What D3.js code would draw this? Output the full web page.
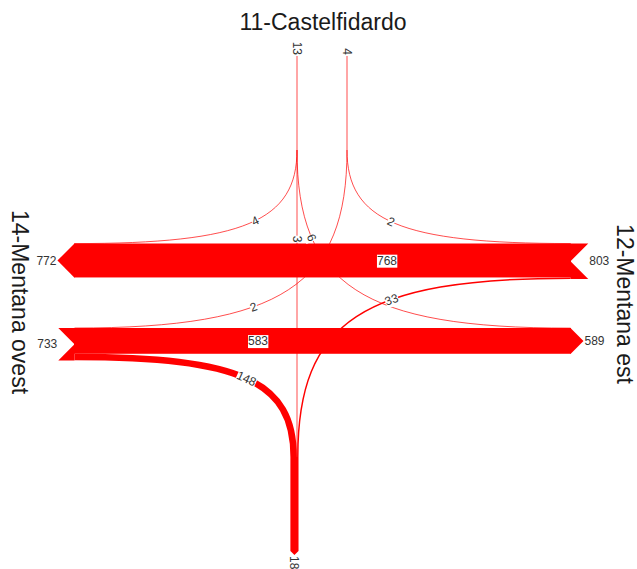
<!DOCTYPE html>
<html>
<head>
<meta charset="utf-8">
<script src="https://cdn.jsdelivr.net/npm/d3@7/dist/d3.min.js"></script>
<style>
  body { margin: 0; background: #fff; }
  text { font-family: "Liberation Sans", Arial, sans-serif; }
</style>
</head>
<body>
<div id="chart-area"></div>
<script>
// arm names (the south arm has no name in the survey)
const armNames = ["11-Castelfidardo", "12-Mentana est", "14-Mentana ovest"];

// turning movements, origin-destination (N = 11, E = 12, W = 14, S = south)
const movements = ["W-E", "E-W", "W-S", "E-S", "N-S", "N-W", "N-E", "E-N", "W-N"];
const vehicles = [583, 768, 148, 33, 3, 4, 6, 2, 2];

const flow = {};
movements.forEach((m, i) => (flow[m] = vehicles[i]));
const sumOf = (list) => d3.sum(list, (m) => flow[m]);

// totals per arm
const westIn = sumOf(["W-E", "W-S", "W-N"]);
const westOut = sumOf(["E-W", "N-W"]);
const eastIn = sumOf(["E-W", "E-S", "E-N"]);
const eastOut = sumOf(["W-E", "N-E"]);
const northIn = sumOf(["N-S", "N-W", "N-E"]);
const northOut = sumOf(["E-N", "W-N"]);
const southOut = sumOf(["W-S", "E-S", "N-S"]);

const width = 637,
  height = 569;

const svg = d3
  .select("#chart-area")
  .append("svg")
  .attr("width", width)
  .attr("height", height);

// band width scale
const w = d3.scaleLinear().domain([0, eastIn]).range([0, 35.5]);
const sw = (v) => Math.max(w(v), 0.7);

// layout
const xa = 74.5,
  xb = 570.5; // ends of the through bands
const yEW = 243.5; // top of westbound band
const yWE = 328; // top of eastbound band
const xNin = 297,
  xNout = 347,
  yNtop = 56,
  ySplit = 150;
const yJoin = 457,
  ySouth = 551;
const c = 0.76;
const red = "#ff0000";

// south trunk x for each movement, stacked W-S | N-S | E-S
const xNS = xNin;
const xWS = xNS - w(flow["N-S"]) / 2 - w(flow["W-S"]) / 2;
const xES = xNS + w(flow["N-S"]) / 2 + w(flow["E-S"]) / 2;

function bez(p0, p3, hFirst) {
  let p1, p2;
  if (hFirst) {
    p1 = [p0[0] + c * (p3[0] - p0[0]), p0[1]];
    p2 = [p3[0], p3[1] + c * (p0[1] - p3[1])];
  } else {
    p1 = [p0[0], p0[1] + c * (p3[1] - p0[1])];
    p2 = [p3[0] + c * (p0[0] - p3[0]), p3[1]];
  }
  return [p0, p1, p2, p3];
}

function bezAt(b, t) {
  const u = 1 - t;
  const k = [u * u * u, 3 * u * u * t, 3 * u * t * t, t * t * t];
  const d = [-3 * u * u, 3 * u * u - 6 * u * t, 6 * u * t - 3 * t * t, 3 * t * t];
  const pt = [0, 1].map((j) => d3.sum(b, (p, i) => k[i] * p[j]));
  const dv = [0, 1].map((j) => d3.sum(b, (p, i) => d[i] * p[j]));
  return { x: pt[0], y: pt[1], dx: dv[0], dy: dv[1] };
}

// turning curves
const curves = {
  "W-S": bez([xa, yWE + w(flow["W-E"]) + w(flow["W-S"]) / 2], [xWS, yJoin], true),
  "E-S": bez([xb, yEW + w(flow["E-W"]) + w(flow["E-S"]) / 2], [xES, yJoin], true),
  "N-W": bez([xNin, ySplit], [xa, yEW + w(flow["N-W"]) / 2], false),
  "N-E": bez([xNin, ySplit], [xb, yWE + w(flow["N-E"]) / 2], false),
  "E-N": bez([xb, yEW + w(flow["E-N"]) / 2], [xNout, ySplit], true),
  "W-N": bez([xa, yWE + w(flow["W-N"]) / 2], [xNout, ySplit], true),
};
const labelT = { "W-S": 0.5, "E-S": 0.38, "N-W": 0.47, "N-E": 0.26, "E-N": 0.52, "W-N": 0.38 };

// ---- through bands ----
const poly = (pts) => "M" + pts.map((p) => p.join(",")).join("L") + "Z";

function arrowLeft(x, y0, v) {
  const h = w(v) / 2;
  return poly([[x, y0], [x - h, y0 + h], [x, y0 + 2 * h]]);
}
function arrowRight(x, y0, v) {
  const h = w(v) / 2;
  return poly([[x, y0], [x + h, y0 + h], [x, y0 + 2 * h]]);
}
function tailLeft(x, y0, v) {
  const h = w(v) / 2;
  return poly([[x, y0], [x - h, y0], [x, y0 + h], [x - h, y0 + 2 * h], [x, y0 + 2 * h]]);
}
function tailRight(x, y0, v) {
  const h = w(v) / 2;
  return poly([[x, y0], [x + h, y0], [x, y0 + h], [x + h, y0 + 2 * h], [x, y0 + 2 * h]]);
}

// westbound (E-W)
svg.append("rect").attr("x", xa - 0.5).attr("y", yEW).attr("width", xb - xa + 1).attr("height", w(flow["E-W"])).attr("fill", red);
svg.append("path").attr("d", arrowLeft(xa, yEW, westOut)).attr("fill", red);
svg.append("path").attr("d", tailRight(xb, yEW, eastIn)).attr("fill", red);
// eastbound (W-E)
svg.append("rect").attr("x", xa - 0.5).attr("y", yWE).attr("width", xb - xa + 1).attr("height", w(flow["W-E"])).attr("fill", red);
svg.append("path").attr("d", tailLeft(xa, yWE, westIn)).attr("fill", red);
svg.append("path").attr("d", arrowRight(xb, yWE, eastOut)).attr("fill", red);

// north stems
svg.append("line").attr("x1", xNin).attr("x2", xNin).attr("y1", yNtop).attr("y2", ySplit)
  .attr("stroke", red).attr("stroke-width", sw(northIn));
svg.append("line").attr("x1", xNout).attr("x2", xNout).attr("y1", yNtop).attr("y2", ySplit)
  .attr("stroke", red).attr("stroke-width", sw(northOut));

// straight on from north
svg.append("line").attr("x1", xNS).attr("x2", xNS).attr("y1", ySplit).attr("y2", yJoin)
  .attr("stroke", red).attr("stroke-width", sw(flow["N-S"]));

// turning curves
Object.keys(curves).forEach((m) => {
  const b = curves[m];
  const p = d3.path();
  p.moveTo(b[0][0], b[0][1]);
  p.bezierCurveTo(b[1][0], b[1][1], b[2][0], b[2][1], b[3][0], b[3][1]);
  svg.append("path").attr("d", p.toString()).attr("fill", "none")
    .attr("stroke", red).attr("stroke-width", sw(flow[m]));
});

// south trunk with arrow
const sl = xWS - w(flow["W-S"]) / 2,
  sr = xES + w(flow["E-S"]) / 2,
  sh = (sr - sl) / 2;
svg.append("path")
  .attr("d", poly([[sl, yJoin], [sr, yJoin], [sr, ySouth], [sl + sh, ySouth + sh], [sl, ySouth]]))
  .attr("fill", red);

// ---- labels ----
function addLabel(x, y, angle, txt) {
  const g = svg.append("g").attr("transform", `translate(${x},${y}) rotate(${angle})`);
  const r = g.append("rect").attr("fill", "white");
  const t = g.append("text").attr("text-anchor", "middle").attr("dy", "0.35em")
    .attr("font-size", 12).attr("fill", "#333").text(txt);
  const bb = t.node().getBBox();
  r.attr("x", bb.x).attr("y", bb.y + 1).attr("width", bb.width).attr("height", bb.height - 1);
}

Object.keys(curves).forEach((m) => {
  const q = bezAt(curves[m], labelT[m]);
  let a = (Math.atan2(q.dy, q.dx) * 180) / Math.PI;
  if (a > 90) a -= 180;
  if (a <= -90) a += 180;
  addLabel(q.x, q.y, a, flow[m]);
});
addLabel(xNS, ySplit + 0.29 * (yJoin - ySplit), 90, flow["N-S"]);
addLabel(xb - 0.37 * (xb - xa), yEW + w(flow["E-W"]) / 2, 0, flow["E-W"]);
addLabel(xa + 0.37 * (xb - xa), yWE + w(flow["W-E"]) / 2, 0, flow["W-E"]);

// arm totals
function armText(x, y, anchor, angle, txt) {
  svg.append("text").attr("transform", `translate(${x},${y}) rotate(${angle})`)
    .attr("text-anchor", anchor).attr("dy", "0.35em").attr("font-size", 12)
    .attr("fill", "#333").text(txt);
}
armText(xa - w(westOut) / 2 - 1, yEW + w(westOut) / 2, "end", 0, westOut);
armText(xa - w(westIn) / 2 - 1, yWE + w(westIn) / 2, "end", 0, westIn);
armText(xb + w(eastIn) / 2 + 1, yEW + w(eastIn) / 2, "start", 0, eastIn);
armText(xb + w(eastOut) / 2 + 1, yWE + w(eastOut) / 2, "start", 0, eastOut);
armText(xNin, yNtop - 1, "end", 90, northIn);
armText(xNout, yNtop - 1, "end", 90, northOut);
armText((sl + sr) / 2, ySouth + sh + 1, "start", 90, southOut);

// arm names
svg.append("text").attr("x", 323).attr("y", 30).attr("text-anchor", "middle")
  .attr("font-size", 23).attr("fill", "#1a1a1a").text(armNames[0]);
svg.append("text").attr("transform", "translate(617,304) rotate(90)").attr("text-anchor", "middle")
  .attr("font-size", 23).attr("fill", "#1a1a1a").text(armNames[1]);
svg.append("text").attr("transform", "translate(12,302) rotate(90)").attr("text-anchor", "middle")
  .attr("font-size", 23).attr("fill", "#1a1a1a").text(armNames[2]);
</script>
</body>
</html>
